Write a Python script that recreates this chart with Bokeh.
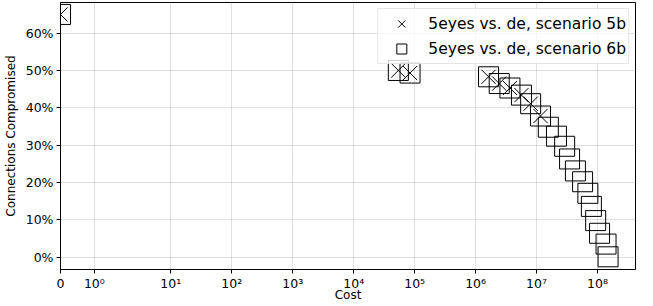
import math
from bokeh.plotting import figure
from bokeh.models import Range1d, FixedTicker, NumeralTickFormatter, Legend, LegendItem, ColumnDataSource
from bokeh.embed import file_html
from bokeh.resources import INLINE

# ---- data ----
cost_5b = [0, 5.4e4, 8.4e4, 1.63e6, 2.44e6, 3.66e6, 5.65e6, 8.0e6, 1.16e7]
comp_5b = [0.650, 0.500, 0.493, 0.483, 0.465, 0.453, 0.434, 0.411, 0.378]

cost_6b = [0, 5.4e4, 8.4e4, 1.63e6, 2.44e6, 3.66e6, 5.65e6, 8.0e6, 1.16e7,
           1.56e7, 2.12e7, 2.89e7, 3.48e7, 4.34e7, 5.69e7, 6.95e7, 7.94e7,
           9.33e7, 1.08e8, 1.38e8, 1.49e8]
comp_6b = [0.650, 0.500, 0.493, 0.483, 0.465, 0.453, 0.434, 0.411, 0.378,
           0.348, 0.324, 0.297, 0.263, 0.231, 0.202, 0.171, 0.136,
           0.098, 0.064, 0.035, 0.001]

x_ticks = [0, 1, 10, 1e2, 1e3, 1e4, 1e5, 1e6, 1e7, 1e8]
x_tick_labels = ["0", "10⁰", "10¹", "10²", "10³", "10⁴", "10⁵", "10⁶", "10⁷", "10⁸"]
y_ticks = [0.0, 0.1, 0.2, 0.3, 0.4, 0.5, 0.6]
x_limits = (0, 4.2e8)
y_limits = (-0.033, 0.682)

label_5b = "5eyes vs. de, scenario 5b"
label_6b = "5eyes vs. de, scenario 6b"

# symmetric-log scale (linear below linthresh), as in matplotlib's symlog
LINTHRESH = 2.0
LINSCALE = 1.0 / (1.0 - 1.0 / 10.0)


def symlog(v):
    if abs(v) <= LINTHRESH:
        return LINSCALE * v / LINTHRESH
    return math.copysign(LINSCALE + math.log10(abs(v) / LINTHRESH), v)


FONT = "DejaVu Sans"

p = figure(width=637, height=304, output_backend="svg", toolbar_location=None,
           x_range=Range1d(symlog(x_limits[0]), symlog(x_limits[1])),
           y_range=Range1d(*y_limits),
           min_border_left=58, min_border_right=2, min_border_top=2, min_border_bottom=0)

p.background_fill_color = "white"
p.border_fill_color = "white"
p.outline_line_color = "black"
p.outline_line_width = 1

src5 = ColumnDataSource(dict(x=[symlog(c) for c in cost_5b], y=comp_5b))
src6 = ColumnDataSource(dict(x=[symlog(c) for c in cost_6b], y=comp_6b))

r5 = p.scatter("x", "y", source=src5, marker="x", size=20, line_color="black", line_width=1)
r6 = p.scatter("x", "y", source=src6, marker="square", size=20, line_color="black",
               line_width=1, fill_alpha=0)

# axes
tick_pos = [symlog(t) for t in x_ticks]
p.xaxis.ticker = FixedTicker(ticks=tick_pos, minor_ticks=[])
p.xaxis.major_label_overrides = {tp: lab for tp, lab in zip(tick_pos, x_tick_labels)}
p.yaxis.ticker = FixedTicker(ticks=y_ticks, minor_ticks=[])
p.yaxis.formatter = NumeralTickFormatter(format="0%")

p.xaxis.axis_label = "Cost"
p.yaxis.axis_label = "Connections Compromised"
for ax in (p.xaxis[0], p.yaxis[0]):
    ax.axis_label_text_font = FONT
    ax.axis_label_text_font_size = "12px"
    ax.axis_label_text_font_style = "normal"
    ax.axis_label_text_color = "black"
    ax.axis_label_text_line_height = 1.0
    ax.major_label_text_font = FONT
    ax.major_label_text_font_size = "12.5px"
    ax.major_label_text_color = "black"
    ax.major_label_text_line_height = 1.0
    ax.axis_line_color = "black"
    ax.major_tick_line_color = "black"
    ax.major_tick_in = 0
    ax.major_tick_out = 4
    ax.minor_tick_line_color = None
p.xaxis.axis_label_standoff = -6
p.yaxis.axis_label_standoff = 5
p.xaxis.major_label_standoff = 2
p.yaxis.major_label_standoff = 3

for g in (p.xgrid[0], p.ygrid[0]):
    g.grid_line_color = "#b0b0b0"
    g.grid_line_dash = "1 1"
    g.grid_line_width = 0.8
p.xgrid.ticker = FixedTicker(ticks=tick_pos)
p.ygrid.ticker = FixedTicker(ticks=y_ticks)

legend = Legend(items=[LegendItem(label=label_5b, renderers=[r5]),
                       LegendItem(label=label_6b, renderers=[r6])],
                location="top_right")
legend.label_text_font = FONT
legend.label_text_font_size = "15.5px"
legend.label_text_color = "black"
legend.glyph_width = 42
legend.glyph_height = 25
legend.label_height = 20
legend.spacing = 0
legend.padding = 2
legend.margin = 6
legend.border_line_color = "#cccccc"
legend.border_line_width = 1
legend.background_fill_alpha = 0.8
legend.label_standoff = 6
p.add_layout(legend)

open("out.html", "w").write(file_html(p, INLINE))
